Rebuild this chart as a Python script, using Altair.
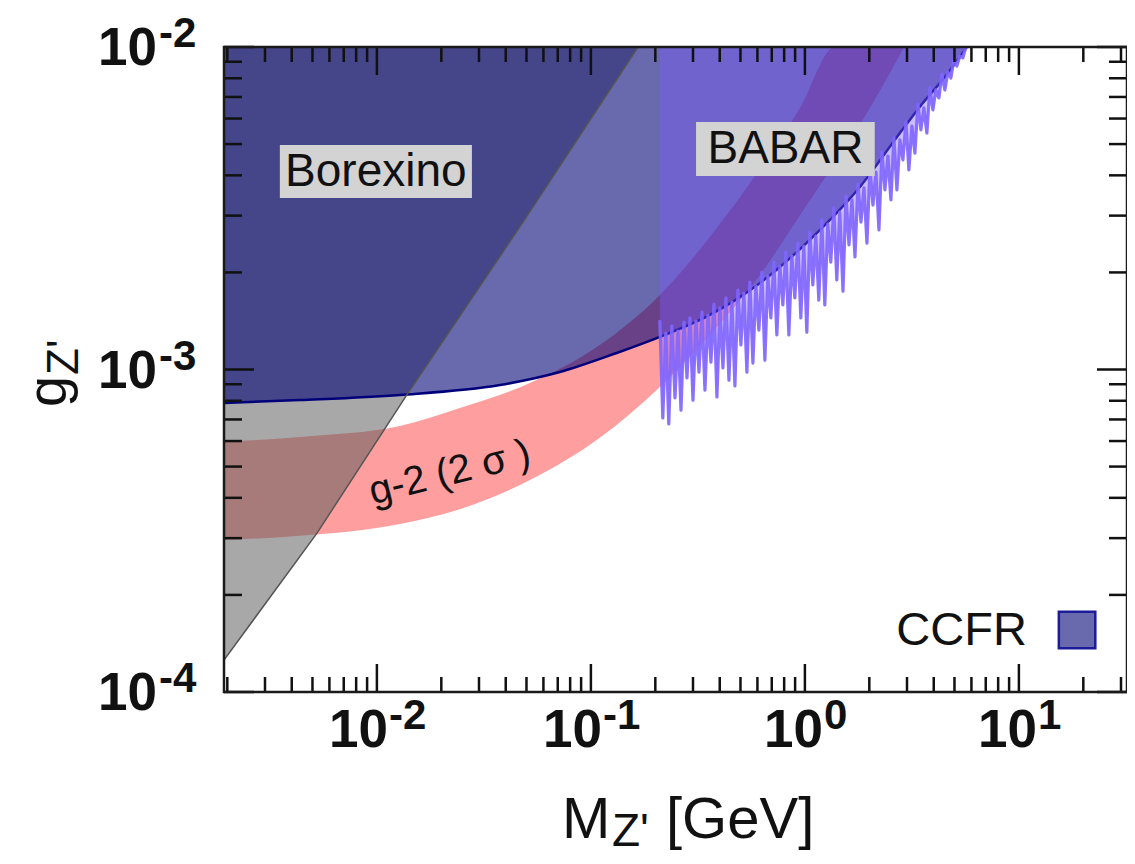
import altair as alt
import pandas as pd

# ---------------- data ----------------
# CCFR exclusion boundary (region above is excluded)
ccfr_mass = [0.00193, 0.00437, 0.0128, 0.0376, 0.0716, 0.132, 0.210, 0.360,
             0.617, 1.054, 1.807, 2.78, 3.44, 4.51, 5.71]
ccfr_g = [7.87e-4, 8.04e-4, 8.34e-4, 8.95e-4, 9.82e-4, 1.125e-3, 1.262e-3,
          1.476e-3, 1.854e-3, 2.523e-3, 3.68e-3, 5.41e-3, 6.52e-3, 8.07e-3, 1.0e-2]

# Borexino exclusion boundary (region above/left is excluded)
borexino_mass = [0.00193, 0.00525, 0.0138, 0.0481, 0.166]
borexino_g = [1.256e-4, 3.11e-4, 8.34e-4, 2.86e-3, 1.0e-2]

# g-2 (2 sigma) band
gm2_mass = [0.00193, 0.00437, 0.0128, 0.0244, 0.0519, 0.110, 0.210, 0.360,
            0.617, 0.948, 1.380, 2.014, 2.904]
gm2_upper = [5.96e-4, 6.18e-4, 6.68e-4, 7.60e-4, 9.08e-4, 1.191e-3, 1.702e-3,
             2.58e-3, 4.19e-3, 6.47e-3, 1.0e-2, 1.0e-2, 1.0e-2]
gm2_lower = [2.96e-4, 3.05e-4, 3.32e-4, 3.69e-4, 4.54e-4, 6.14e-4, 8.83e-4,
             1.279e-3, 1.963e-3, 3.01e-3, 4.37e-3, 6.47e-3, 1.0e-2]

# BABAR exclusion boundary (jagged), log10 values
babar_log10_mass = [-0.678, -0.664, -0.650, -0.636, -0.622, -0.607, -0.593, -0.579, -0.565, -0.551,
                    -0.537, -0.523, -0.509, -0.495, -0.481, -0.467, -0.453, -0.439, -0.425, -0.411,
                    -0.397, -0.383, -0.369, -0.355, -0.341, -0.327, -0.313, -0.299, -0.285, -0.271,
                    -0.257, -0.243, -0.229, -0.215, -0.201, -0.187, -0.173, -0.159, -0.145, -0.131,
                    -0.117, -0.103, -0.089, -0.075, -0.061, -0.047, -0.033, -0.019, -0.005, 0.009,
                    0.023, 0.037, 0.051, 0.065, 0.079, 0.093, 0.107, 0.121, 0.135, 0.149,
                    0.163, 0.178, 0.192, 0.206, 0.220, 0.234, 0.248, 0.262, 0.276, 0.290,
                    0.304, 0.318, 0.332, 0.346, 0.360, 0.374, 0.388, 0.402, 0.416, 0.430,
                    0.444, 0.458, 0.472, 0.486, 0.500, 0.514, 0.528, 0.542, 0.556, 0.570,
                    0.584, 0.598, 0.612, 0.626, 0.640, 0.654, 0.668, 0.682, 0.696, 0.710,
                    0.724, 0.738, 0.752]
babar_log10_g = [-2.847, -3.150, -2.887, -3.169, -2.865, -3.088, -2.881, -3.126, -2.853, -3.026,
                 -2.840, -3.095, -2.850, -3.008, -2.822, -3.064, -2.831, -2.977, -2.797, -3.085,
                 -2.809, -2.995, -2.778, -3.033, -2.791, -3.051, -2.754, -2.924, -2.763, -3.008,
                 -2.729, -2.980, -2.741, -2.878, -2.698, -2.971, -2.710, -2.840, -2.667, -2.893,
                 -2.679, -2.800, -2.636, -2.893, -2.648, -2.778, -2.608, -2.840, -2.617, -2.884,
                 -2.574, -2.738, -2.586, -2.785, -2.536, -2.800, -2.549, -2.667, -2.499, -2.722,
                 -2.512, -2.757, -2.462, -2.614, -2.474, -2.651, -2.425, -2.543, -2.437, -2.608,
                 -2.375, -2.490, -2.388, -2.567, -2.326, -2.443, -2.338, -2.474, -2.282, -2.443,
                 -2.288, -2.350, -2.233, -2.381, -2.245, -2.329, -2.177, -2.257, -2.189, -2.267,
                 -2.127, -2.195, -2.133, -2.158, -2.084, -2.133, -2.078, -2.096, -2.040, -2.059,
                 -2.028, -2.034, -2.000]

G_TOP = 1.0e-2

# axis ticks / labels
x_major = [0.01, 0.1, 1, 10]
x_major_exp = ["-2", "-1", "0", "1"]
x_minor = [m * d for d in [0.001, 0.01, 0.1, 1, 10] for m in range(2, 10)
           if 0.00193 < m * d < 32]
y_major = [1e-2, 1e-3, 1e-4]
y_major_exp = ["-2", "-3", "-4"]
y_minor = [m * d for d in [1e-4, 1e-3] for m in range(2, 10)]

# ---------------- chart ----------------
W, H = 903, 645
FONT = "Liberation Sans"
xs = alt.Scale(type="log", domain=[0.00193, 32], nice=False)
ys = alt.Scale(type="log", domain=[1e-4, 1e-2], nice=False)


def X(f):
    return alt.X(f, type="quantitative", scale=xs, axis=None)


def Y(f):
    return alt.Y(f, type="quantitative", scale=ys, axis=None)


df_ccfr = pd.DataFrame({"m": ccfr_mass, "g": ccfr_g, "top": G_TOP})
df_bx = pd.DataFrame({"m": borexino_mass, "g": borexino_g, "top": G_TOP})
df_gm2 = pd.DataFrame({"m": gm2_mass, "lo": gm2_lower, "hi": gm2_upper})
df_babar = pd.DataFrame({"m": [10 ** v for v in babar_log10_mass],
                         "g": [10 ** v for v in babar_log10_g], "top": G_TOP})

band = alt.Chart(df_gm2).mark_area(color="#ff9e9e", clip=True, interpolate="monotone").encode(
    x=X("m"), y=Y("lo"), y2="hi")
gray = alt.Chart(df_bx).mark_area(color="#5e5e5e", opacity=0.54, clip=True).encode(
    x=X("m"), y=Y("g"), y2="top")
ccfr = alt.Chart(df_ccfr).mark_area(color="#000075", opacity=0.59, clip=True,
                                    interpolate="monotone").encode(x=X("m"), y=Y("g"), y2="top")
ccfr_line = alt.Chart(df_ccfr).mark_line(color="#00007a", strokeWidth=2.5, clip=True,
                                         interpolate="monotone").encode(x=X("m"), y=Y("g"))
bx_line = alt.Chart(df_bx).mark_line(color="#555555", strokeWidth=1.5, clip=True).encode(
    x=X("m"), y=Y("g"))
babar = alt.Chart(df_babar).mark_area(color="#7b5aff", opacity=0.40, clip=True).encode(
    x=X("m"), y=Y("g"), y2="top")
babar_line = alt.Chart(df_babar).mark_line(color="#8066ff", strokeWidth=3.2, opacity=0.92,
                                           strokeJoin="round", clip=True).encode(x=X("m"), y=Y("g"))

# region labels with boxes
df_boxes = pd.DataFrame({"x1": [0.00352, 0.310], "x2": [0.0278, 2.12],
                         "y1": [3.40e-3, 3.98e-3], "y2": [4.97e-3, 5.85e-3]})
boxes = alt.Chart(df_boxes).mark_rect(color="#d3d3d3").encode(
    x=X("x1"), x2="x2", y=Y("y1"), y2="y2")
df_lbl = pd.DataFrame({"t": ["Borexino", "BABAR"], "m": [0.00989, 0.811],
                       "g": [4.11e-3, 4.83e-3]})
lbls = alt.Chart(df_lbl).mark_text(font=FONT, fontSize=46, color="#111111",
                                   align="center", baseline="middle").encode(
    x=X("m"), y=Y("g"), text="t:N")
gm2_lbl = alt.Chart(pd.DataFrame({"m": [0.0219], "g": [4.78e-4]})).mark_text(
    text="g-2 (2 σ )", font=FONT, fontSize=40, angle=346, color="#111111",
    align="center", baseline="middle").encode(x=X("m"), y=Y("g"))

# legend
leg_sq = alt.Chart(pd.DataFrame({"m": [18.7], "g": [1.556e-4]})).mark_square(
    size=1330, filled=True, fill="#6969ae", stroke="#1c1c9a", strokeWidth=2.5,
    opacity=1).encode(x=X("m"), y=Y("g"))
leg_txt = alt.Chart(pd.DataFrame({"m": [10.9], "g": [1.556e-4]})).mark_text(
    text="CCFR", font=FONT, fontSize=47, color="#111111", align="right",
    baseline="middle", dy=1).encode(x=X("m"), y=Y("g"))

# ticks
TK = dict(color="#111111", strokeWidth=2.5)


def xticks(vals, L):
    d = pd.DataFrame({"v": vals})
    b = alt.Chart(d).mark_rule(**TK).encode(x=X("v"), y=alt.value(H), y2=alt.value(H - L))
    t = alt.Chart(d).mark_rule(**TK).encode(x=X("v"), y=alt.value(0), y2=alt.value(L))
    return [b, t]


def yticks(vals, L):
    d = pd.DataFrame({"v": vals})
    l = alt.Chart(d).mark_rule(**TK).encode(y=Y("v"), x=alt.value(0), x2=alt.value(L))
    r = alt.Chart(d).mark_rule(**TK).encode(y=Y("v"), x=alt.value(W), x2=alt.value(W - L))
    return [l, r]


ticks = xticks(x_major, 28) + xticks(x_minor, 15) + yticks(y_major, 30) + yticks(y_minor, 18)

# tick labels: "10" with raised exponent
LBL = dict(font=FONT, fontWeight="bold", color="#111111", baseline="middle")
tick_labels = []
for v, e in zip(x_major, x_major_exp):
    shift = 11 if e.startswith("-") else 18
    d = pd.DataFrame({"v": [v], "b": ["10"], "e": [e]})
    tick_labels.append(alt.Chart(d).mark_text(align="right", dx=shift, fontSize=53, **LBL).encode(
        x=X("v"), y=alt.value(H + 39), text="b:N"))
    tick_labels.append(alt.Chart(d).mark_text(align="left", dx=shift + 1, fontSize=42, **LBL).encode(
        x=X("v"), y=alt.value(H + 24), text="e:N"))
d_y = pd.DataFrame({"v": y_major, "b": ["10"] * 3, "e": y_major_exp})
tick_labels.append(alt.Chart(d_y).mark_text(align="right", dy=2, fontSize=53, **LBL).encode(
    y=Y("v"), x=alt.value(-67), text="b:N"))
tick_labels.append(alt.Chart(d_y).mark_text(align="left", dy=-13, fontSize=42, **LBL).encode(
    y=Y("v"), x=alt.value(-65), text="e:N"))

# axis titles
one = pd.DataFrame({"a": [0]})
TT = dict(font=FONT, color="#111111", baseline="alphabetic", align="left")
titles = [
    alt.Chart(one).mark_text(text="M", fontSize=58, **TT).encode(x=alt.value(338), y=alt.value(791)),
    alt.Chart(one).mark_text(text="Z'", fontSize=46, **TT).encode(x=alt.value(388), y=alt.value(799)),
    alt.Chart(one).mark_text(text="[GeV]", fontSize=58, **TT).encode(x=alt.value(442), y=alt.value(791)),
    alt.Chart(one).mark_text(text="g", fontSize=56, angle=270, **TT).encode(x=alt.value(-158), y=alt.value(360)),
    alt.Chart(one).mark_text(text="Z'", fontSize=44, angle=270, **TT).encode(x=alt.value(-146), y=alt.value(328)),
]

frame = alt.Chart(one).mark_rect(fillOpacity=0, stroke="#1a1a1a", strokeWidth=2.5).encode(
    x=alt.value(0), x2=alt.value(W), y=alt.value(0), y2=alt.value(H))

chart = alt.layer(
    band, gray, ccfr, ccfr_line, bx_line, babar, babar_line,
    boxes, lbls, gm2_lbl, leg_sq, leg_txt, *ticks, *tick_labels, *titles, frame
).properties(
    width=W, height=H,
    autosize=alt.AutoSizeParams(type="none"),
    padding={"left": 216, "top": 39, "right": 0, "bottom": 164},
    background="white",
).configure_view(strokeWidth=0)

chart.save("out.html", embed_options={"renderer": "svg", "actions": False})
